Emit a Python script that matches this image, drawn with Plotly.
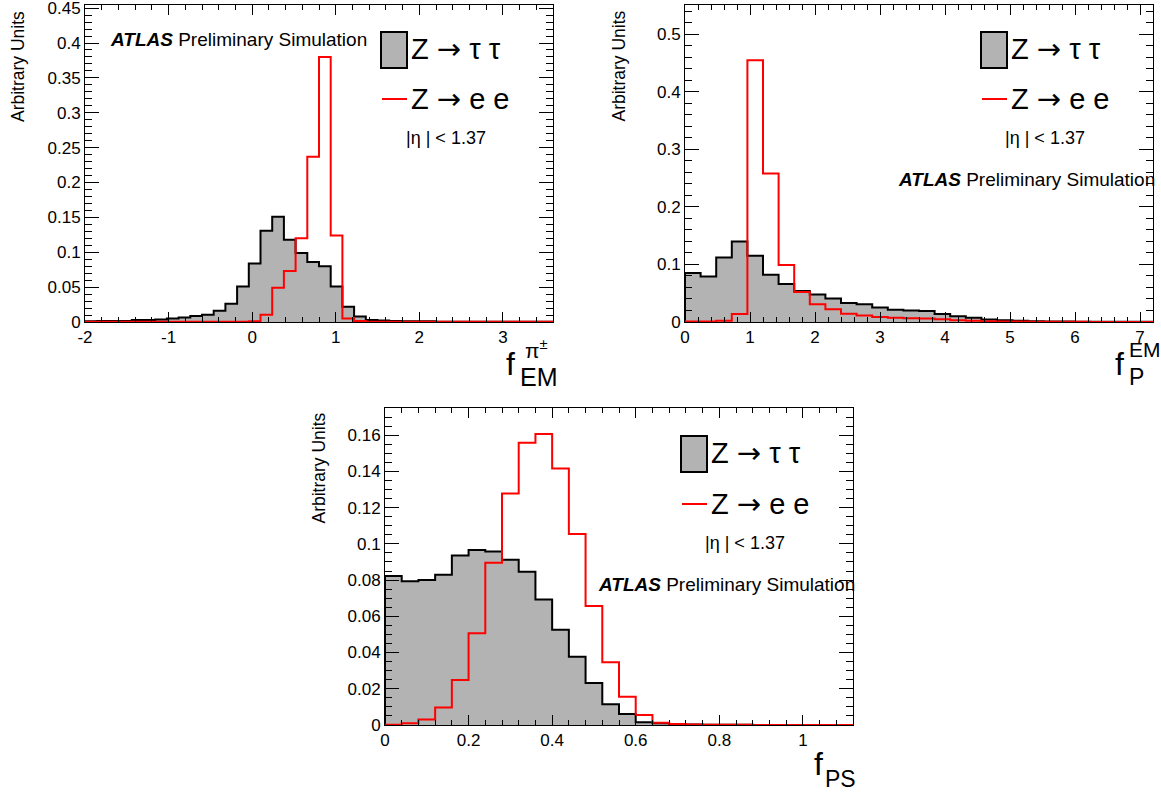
import numpy as np
import plotly.graph_objects as go

W, H = 1161, 792
FONT = "Liberation Sans"

# ---------------- data ----------------
# Panel 1: f_EM^{pi+-}, 40 bins of 0.14 starting at -2
p1_lo, p1_width = -2.0, 0.14
p1_ztautau = [0.001, 0.0015, 0.0015, 0.0015, 0.003, 0.003, 0.0035, 0.005, 0.0065, 0.0085,
              0.0105, 0.016, 0.026, 0.051, 0.084, 0.131, 0.151, 0.118, 0.099, 0.086,
              0.080, 0.051, 0.022, 0.008, 0.003, 0.002, 0.0015, 0.001, 0.001, 0.001,
              0.0005, 0.0005, 0.0005, 0.0005, 0.0005, 0.0005, 0.0003, 0.0003, 0.0003, 0.0003]
p1_zee = [0.0002, 0.0002, 0.0002, 0.0002, 0.0002, 0.0002, 0.0002, 0.0002, 0.0002, 0.0002,
          0.0002, 0.0002, 0.0002, 0.0003, 0.001, 0.0105, 0.049, 0.073, 0.120, 0.237,
          0.380, 0.124, 0.005, 0.0015, 0.0005, 0.0005, 0.0003, 0.0003, 0.0002, 0.0002,
          0.0002, 0.0002, 0.0002, 0.0002, 0.0002, 0.0002, 0.0002, 0.0002, 0.0002, 0.0002]
p1_xticks = [-2, -1, 0, 1, 2, 3]
p1_xticklabels = ["-2", "-1", "0", "1", "2", "3"]

# Panel 2: f_P^EM, 30 bins of 0.24 starting at 0
p2_lo, p2_width = 0.0, 0.24
p2_ztautau = [0.085, 0.079, 0.112, 0.140, 0.115, 0.082, 0.066, 0.054, 0.048, 0.041,
              0.033, 0.031, 0.025, 0.0215, 0.020, 0.019, 0.014, 0.010, 0.0075, 0.0045,
              0.003, 0.002, 0.0015, 0.001, 0.001, 0.0005, 0.0005, 0.0005, 0.0003, 0.0003]
p2_zee = [0.001, 0.001, 0.002, 0.014, 0.455, 0.258, 0.099, 0.052, 0.031, 0.022,
          0.0145, 0.0115, 0.0087, 0.0075, 0.0064, 0.006, 0.0046, 0.003, 0.002, 0.0015,
          0.001, 0.0008, 0.0005, 0.0005, 0.0003, 0.0003, 0.0002, 0.0002, 0.0002, 0.0002]

# Panel 3: f_PS, 28 bins of 0.04 starting at 0
p3_lo, p3_width = 0.0, 0.04
p3_ztautau = [0.0822, 0.0794, 0.080, 0.083, 0.0936, 0.0966, 0.0958, 0.0912, 0.0846, 0.0693,
              0.0526, 0.0377, 0.0232, 0.0114, 0.0061, 0.0015, 0.001, 0.0005, 0.0003, 0.0002,
              0.0001, 0.0001, 0.0, 0.0, 0.0, 0.0, 0.0, 0.0]
p3_zee = [0.0002, 0.001, 0.0031, 0.0097, 0.0248, 0.0506, 0.0896, 0.1278, 0.1558, 0.1607,
          0.1416, 0.1054, 0.0657, 0.0346, 0.0156, 0.0055, 0.0013, 0.0005, 0.0003, 0.0002,
          0.0001, 0.0001, 0.0, 0.0, 0.0, 0.0, 0.0, 0.0]

ARROW = '<span style="font-family:DejaVu Sans">→</span>'
legend_tautau = "Z " + ARROW + " τ τ"
legend_ee = "Z " + ARROW + " e e"
eta_text = "|η | < 1.37"
atlas_text = "<b><i>ATLAS</i></b> Preliminary Simulation"
ytitle = "Arbitrary Units"

GRAY = "#b3b3b3"
RED = "#ff0000"


def step_xy(lo, width, vals):
    n = len(vals)
    edges = lo + width * np.arange(n + 1)
    x = np.concatenate([[edges[0]], edges[:-1], [edges[-1]]])
    y = np.concatenate([[0.0], np.asarray(vals, float), [0.0]])
    return x, y


def px(x):
    return x / W


def py(y):
    return 1 - y / H


fig = go.Figure()

panels = [
    (p1_lo, p1_width, p1_ztautau, p1_zee, "x", "y"),
    (p2_lo, p2_width, p2_ztautau, p2_zee, "x2", "y2"),
    (p3_lo, p3_width, p3_ztautau, p3_zee, "x3", "y3"),
]
for lo, wd, tt, ee, xa, ya in panels:
    x, y = step_xy(lo, wd, tt)
    fig.add_trace(go.Scatter(x=x, y=y, mode="lines", line=dict(shape="hv", color="black", width=2),
                             fill="tozeroy", fillcolor=GRAY, xaxis=xa, yaxis=ya, showlegend=False,
                             hoverinfo="skip"))
    x, y = step_xy(lo, wd, ee)
    fig.add_trace(go.Scatter(x=x, y=y, mode="lines", line=dict(shape="hv", color=RED, width=2),
                             xaxis=xa, yaxis=ya, showlegend=False, hoverinfo="skip"))


def axis(domain, rng, dtick, minor_dtick, ticklen, minorlen, anchor, tick0=0):
    return dict(domain=domain, range=rng, dtick=dtick, tick0=tick0, anchor=anchor,
                showline=True, linecolor="black", linewidth=1, mirror="ticks",
                ticks="inside", ticklen=ticklen, tickwidth=1, tickcolor="black",
                showgrid=False, zeroline=False, automargin=False, ticklabeloverflow="allow",
                tickfont=dict(family=FONT, size=17, color="black"),
                minor=dict(ticks="inside", ticklen=minorlen, dtick=minor_dtick, tick0=tick0,
                           tickcolor="black", tickwidth=1, showgrid=False))


b1 = (85, 553, 5, 322)
b2 = (685, 1153, 5, 322)
b3 = (385, 853, 408, 725)


def dom(b):
    return [px(b[0]), px(b[1])], [py(b[3]), py(b[2])]


d1x, d1y = dom(b1)
d2x, d2y = dom(b2)
d3x, d3y = dom(b3)

xa1 = axis(d1x, [-2, 3.6], 1, 0.2, 10, 5, "y", tick0=-2)
xa1.update(tickmode="array", tickvals=p1_xticks, ticktext=p1_xticklabels)

fig.update_layout(
    width=W, height=H, margin=dict(l=0, r=0, t=0, b=0),
    paper_bgcolor="white", plot_bgcolor="white",
    xaxis=xa1,
    yaxis=axis(d1y, [0, 0.4545], 0.05, 0.01, 14, 7, "x"),
    xaxis2=axis(d2x, [0, 7.2], 1, 0.2, 10, 5, "y2"),
    yaxis2=axis(d2y, [0, 0.551], 0.1, 0.02, 14, 7, "x2"),
    xaxis3=axis(d3x, [0, 1.12], 0.2, 0.04, 10, 5, "y3"),
    yaxis3=axis(d3y, [0, 0.175], 0.02, 0.005, 14, 7, "x3"),
)

ann = []
shapes = []


def text(s, x, y, size, xanchor="left", yanchor="middle", angle=0):
    ann.append(dict(text=s, x=px(x), y=py(y), xref="paper", yref="paper", xanchor=xanchor,
                    yanchor=yanchor, showarrow=False, textangle=angle,
                    font=dict(family=FONT, size=size, color="black")))


# y titles
text(ytitle, 17.5, 9, 17.5, xanchor="center", yanchor="top", angle=-90)
text(ytitle, 618, 9, 17.5, xanchor="center", yanchor="top", angle=-90)
text(ytitle, 318, 411, 17.5, xanchor="center", yanchor="top", angle=-90)

# x titles
text("f", 517, 364, 32, xanchor="right")
text("EM", 518, 377, 25)
text("π<sup>±</sup>", 523, 349, 21)

text("f", 1126, 364, 32, xanchor="right")
text("EM", 1127, 349, 21)
text("P", 1127, 377, 23)

text("f", 825, 764, 32, xanchor="right")
text("PS", 823, 779, 23)


def legend(bx, by, line_y, tx):
    shapes.append(dict(type="rect", xref="paper", yref="paper", x0=px(bx), x1=px(bx + 26),
                       y0=py(by + 36), y1=py(by), fillcolor=GRAY, line=dict(color="black", width=2)))
    shapes.append(dict(type="line", xref="paper", yref="paper", x0=px(bx + 1), x1=px(bx + 26),
                       y0=py(line_y), y1=py(line_y), line=dict(color=RED, width=2)))
    text(legend_tautau, tx, by + 17, 29)
    text(legend_ee, tx, line_y, 29)


legend(381, 32, 99, 409)
legend(981, 32, 99, 1009)
legend(681, 436, 504, 709)

text(eta_text, 404, 138, 18)
text(eta_text, 1003, 138, 18)
text(eta_text, 703, 543, 18)

text(atlas_text, 108, 40, 19)
text(atlas_text, 896, 179, 19)
text(atlas_text, 596, 584, 19)

fig.update_layout(annotations=ann, shapes=shapes)
fig.write_html("out.html", config={"displayModeBar": False},
               post_script="document.body.style.margin='0';")
